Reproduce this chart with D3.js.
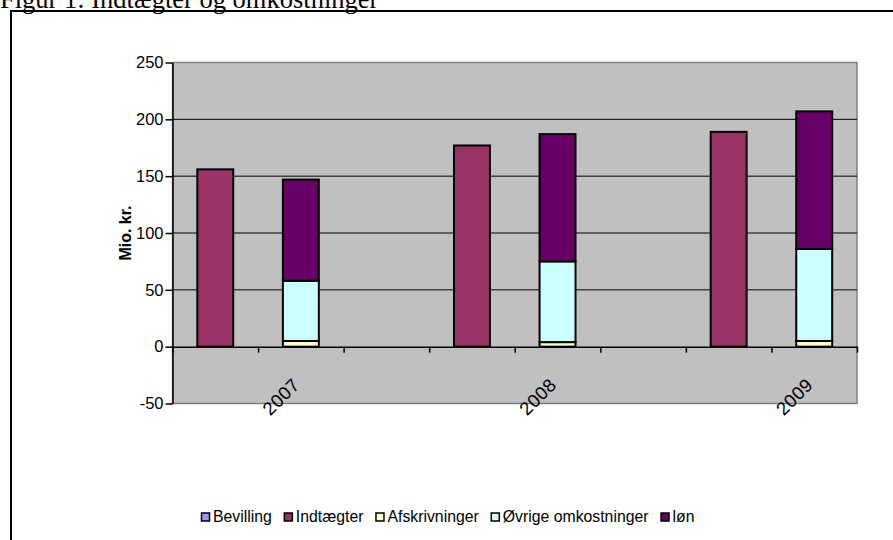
<!DOCTYPE html>
<html>
<head>
<meta charset="utf-8">
<script src="https://cdn.jsdelivr.net/npm/d3@7"></script>
<style>
  body { margin: 0; background: #fff; }
  svg { display: block; }
</style>
</head>
<body>
<div id="main"><svg width="893" height="540"></svg></div>
<script>
var svg = d3.select("#main svg");

// chart data
var categories = ["", "2007", "", "", "2008", "", "", "2009"];
var seriesNames = ["Bevilling", "Indtægter", "Afskrivninger", "Øvrige omkostninger", "løn"];
var bevilling     = [0, 0, 0, 0, 0, 0, 0, 0];
var indtaegter    = [156, 0, 0, 177, 0, 0, 189, 0];
var afskrivninger = [0, 5, 0, 0, 4, 0, 0, 5];
var ovrige        = [0, 53, 0, 0, 71, 0, 0, 81];
var lon           = [0, 89, 0, 0, 112, 0, 0, 121];
var yTicks = [-50, 0, 50, 100, 150, 200, 250];

var colors = ["#9999FF", "#993366", "#FFFFCC", "#CCFFFF", "#660066"];

var rows = categories.map(function(c, i) {
  var r = {cat: i};
  r[seriesNames[0]] = bevilling[i];
  r[seriesNames[1]] = indtaegter[i];
  r[seriesNames[2]] = afskrivninger[i];
  r[seriesNames[3]] = ovrige[i];
  r[seriesNames[4]] = lon[i];
  return r;
});

// frame + title (title sits partly above the page edge)
svg.append("text")
  .attr("x", 0).attr("y", 8)
  .style("font-family", "'Liberation Serif', 'Times New Roman', serif")
  .style("font-size", "26.5px")
  .text("Figur 1: Indtægter og omkostninger");

svg.append("rect")
  .attr("x", 11).attr("y", 11)
  .attr("width", 900).attr("height", 600)
  .attr("fill", "none")
  .attr("stroke", "#000")
  .attr("stroke-width", 2);

var plot = {l: 172.5, r: 857, t: 62.5, b: 403.5};

var x = d3.scaleBand()
  .domain(d3.range(categories.length))
  .range([plot.l, plot.r])
  .paddingInner(0.58)
  .paddingOuter(0.29);

var xEdge = d3.scaleLinear()
  .domain([0, categories.length])
  .range([plot.l, plot.r]);

var y = d3.scaleLinear()
  .domain([-50, 250])
  .range([plot.b, plot.t]);

// plot area
svg.append("rect")
  .attr("x", plot.l).attr("y", plot.t)
  .attr("width", plot.r - plot.l).attr("height", plot.b - plot.t)
  .attr("fill", "#C0C0C0")
  .attr("stroke", "#808080")
  .attr("stroke-width", 1.5);

// gridlines
svg.append("g")
  .selectAll("line")
  .data(yTicks.filter(function(v) { return v > 0 && v < 250; }))
  .enter().append("line")
  .attr("x1", plot.l).attr("x2", plot.r)
  .attr("y1", function(d) { return y(d); })
  .attr("y2", function(d) { return y(d); })
  .attr("stroke", "#000")
  .attr("stroke-width", 1);

// stacked bars
var stack = d3.stack().keys(seriesNames).offset(d3.stackOffsetDiverging);
var layers = stack(rows);

var layerG = svg.append("g").selectAll("g")
  .data(layers)
  .enter().append("g")
  .attr("fill", function(d, i) { return colors[i]; });

layerG.selectAll("rect")
  .data(function(d) { return d.filter(function(p) { return p[1] - p[0] !== 0; }); })
  .enter().append("rect")
  .attr("x", function(d) { return x(d.data.cat); })
  .attr("width", x.bandwidth())
  .attr("y", function(d) { return y(Math.max(d[0], d[1])); })
  .attr("height", function(d) { return Math.abs(y(d[0]) - y(d[1])); })
  .attr("stroke", "#000")
  .attr("stroke-width", 2);

// x axis at zero
var xAxis = svg.append("g")
  .attr("transform", "translate(0," + y(0) + ")")
  .call(d3.axisBottom(xEdge)
    .tickValues(d3.range(categories.length + 1))
    .tickFormat("")
    .tickSizeInner(6)
    .tickSizeOuter(0));
xAxis.select(".domain").attr("stroke", "#000").attr("stroke-width", 1.5);
xAxis.selectAll(".tick line").attr("stroke", "#000").attr("stroke-width", 1.5);

svg.append("g").selectAll("text")
  .data(categories)
  .enter().append("text")
  .attr("transform", function(d, i) {
    var cx = x(i) + x.bandwidth() / 2;
    return "translate(" + [cx, 386] + ") rotate(-45)";
  })
  .attr("text-anchor", "end")
  .style("font-family", "'Liberation Sans', Arial, sans-serif")
  .style("font-size", "18.5px")
  .style("letter-spacing", "0.5px")
  .attr("fill", "#000")
  .text(function(d) { return d; });

// y axis
var yAxis = svg.append("g")
  .attr("transform", "translate(" + plot.l + ",0)")
  .call(d3.axisLeft(y)
    .tickValues(yTicks)
    .tickFormat(function(d) { return String(d); })
    .tickSizeInner(7)
    .tickSizeOuter(0)
    .tickPadding(2));
yAxis.select(".domain").attr("stroke", "#000").attr("stroke-width", 1.5);
yAxis.selectAll(".tick line").attr("stroke", "#000").attr("stroke-width", 1.5);
yAxis.selectAll(".tick text")
  .style("font-family", "'Liberation Sans', Arial, sans-serif")
  .style("font-size", "16.5px")
  .attr("fill", "#000");

svg.append("text")
  .attr("transform", "translate(" + [131, 233] + ") rotate(-90)")
  .attr("text-anchor", "middle")
  .style("font-family", "'Liberation Sans', Arial, sans-serif")
  .style("font-size", "16px")
  .style("font-weight", "bold")
  .text("Mio. kr.");

// legend
var legend = svg.append("g").attr("transform", "translate(201,0)");
var lx = 0;
seriesNames.forEach(function(name, i) {
  var item = legend.append("g").attr("transform", "translate(" + lx + ",0)");
  item.append("rect")
    .attr("x", 0.5).attr("y", 513)
    .attr("width", 8).attr("height", 8)
    .attr("fill", colors[i])
    .attr("stroke", "#000")
    .attr("stroke-width", 1.5);
  var t = item.append("text")
    .attr("x", 12).attr("y", 522)
    .style("font-family", "'Liberation Sans', Arial, sans-serif")
    .style("font-size", "15.8px")
    .text(name);
  lx += 12 + t.node().getComputedTextLength() + 12;
});
</script>
</body>
</html>
